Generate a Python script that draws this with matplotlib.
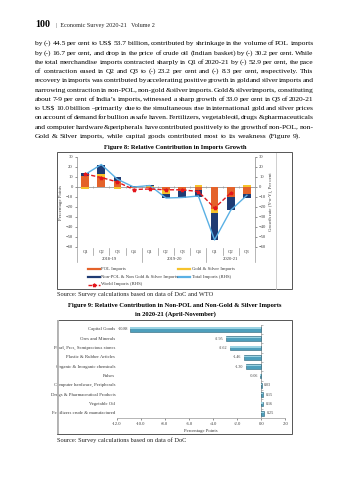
import math

import matplotlib

matplotlib.use("Agg")
import matplotlib.pyplot as plt
import numpy as np
from matplotlib.font_manager import FontProperties
from matplotlib.lines import Line2D
from matplotlib.patches import Rectangle

W, H = 349, 480
SERIF = "Liberation Serif"

# --- Figure 8: contributions (percentage points) and growth (per cent) ---
quarters = ["Q1", "Q2", "Q3", "Q4", "Q1", "Q2", "Q3", "Q4", "Q1", "Q2", "Q3"]
years = ["2018-19", "2019-20", "2020-21"]
year_spans = [(0, 3), (4, 7), (8, 10)]
pol = [11.0, 10.0, 6.5, -0.8, -0.5, -3.3, -3.5, -3.3, -21.5, -9.7, -7.0]
gold_silver = [-2.0, 3.5, -2.0, 0.5, 1.2, -3.2, -0.5, 1.8, -4.0, 0.0, 2.5]
non_pol = [3.5, 9.0, 3.2, 0.3, 1.3, -4.5, -6.5, -6.5, -27.4, -13.5, -3.8]
total_growth = [12.5, 22.5, 7.7, 0.0, 1.5, -11.0, -10.5, -9.0, -52.9, -23.2, -8.3]
world_growth = [13.0, 9.5, 5.0, -2.5, -2.0, -2.8, -2.8, -4.5, -21.0, -6.0, np.nan]

# --- Figure 9: non-POL, non-gold & silver contributions ---
groups = [
    "Capital Goods",
    "Ores and Minerals",
    "Pearl, Prcs, Semiprecious stones",
    "Plastic & Rubber Articles",
    "Organic & Inorganic chemicals",
    "Pulses",
    "Computer hardware, Peripherals",
    "Drugs & Pharmaceutical Products",
    "Vegetable Oil",
    "Fertilizers crude & manufactured",
]
contribution = [-10.88, -2.95, -2.62, -1.46, -1.30, -0.06, 0.03, 0.15, 0.16, 0.25]

body_lines = [
    "by (-) 44.5 per cent to US$ 53.7 billion, contributed by shrinkage in the volume of POL imports",
    "by (-) 16.7 per cent, and drop in the price of crude oil (Indian basket) by (-) 30.2 per cent. While",
    "the total merchandise imports contracted sharply in Q1 of 2020-21 by (-) 52.9 per cent, the pace",
    "of contraction eased in Q2 and Q3 to (-) 23.2 per cent and (-) 8.3 per cent, respectively. This",
    "recovery in imports was contributed by accelerating positive growth in gold and silver imports and",
    "narrowing contraction in non-POL, non-gold & silver imports. Gold & silver imports, constituting",
    "about 7-9 per cent of India\u2019s imports, witnessed a sharp growth of 33.0 per cent in Q3 of 2020-21",
    "to US$ 10.0 billion \u2013 primarily due to the simultaneous rise in international gold and silver prices",
    "on account of demand for bullion as safe haven. Fertilizers, vegetable oil, drugs & pharmaceuticals",
    "and computer hardware & peripherals have contributed positively to the growth of non-POL, non-",
    "Gold & Silver imports, while capital goods contributed most to its weakness (Figure 9).",
]

C_POL = "#E4622A"
C_GOLD = "#F6C32C"
C_NONPOL = "#1F3B73"
C_TOTAL = "#5AB0E4"
C_WORLD = "#E3151B"
C_BAR9 = "#4E9FBC"
C_TXT = "#3a3a3a"


def fx(x):
    return x / W


def fy(y):
    return 1 - y / H


def px_axes(fig, left, top, right, bottom):
    return fig.add_axes([fx(left), fy(bottom), (right - left) / W, (bottom - top) / H])


fig = plt.figure(figsize=(W / 100, H / 100), dpi=100)
fig.patch.set_facecolor("white")
renderer = fig.canvas.get_renderer()

# page header
fig.text(fx(35), fy(27), "100", family=SERIF, fontsize=7.2, weight="bold", va="baseline")
fig.text(fx(56), fy(27), "|  Economic Survey 2020-21   Volume 2", family=SERIF,
         fontsize=4.4, va="baseline", color="#222")

# justified body paragraph; the font size is the largest one that still
# leaves at least a minimal word gap on every justified line
x_left, x_right = 35.0, 313.5
line_w = x_right - x_left
min_gap = 0.55
probe = FontProperties(family=SERIF, size=10)
sizes = []
for line in body_lines[:-1]:
    words = line.split(" ")
    ww = sum(renderer.get_text_width_height_descent(w, probe, ismath=False)[0] for w in words)
    sizes.append(10 * (line_w - (len(words) - 1) * min_gap) / ww)
body_fp = FontProperties(family=SERIF, size=min(sizes))


def put_word(x, base, word):
    # Agg snaps each word bitmap to whole pixels using its own ascent and
    # descent; offset the anchor so all words share one baseline row
    _, h, d = renderer.get_text_width_height_descent(word, body_fp, ismath=False)
    y = base + math.floor(h) - math.floor(h - d) - d
    fig.text(fx(x), fy(y), word, fontproperties=body_fp, va="baseline",
             parse_math=False, color="black")


for i, line in enumerate(body_lines):
    base = round(45.3 + i * 9.25)
    words = line.split(" ")
    widths = [renderer.get_text_width_height_descent(w, body_fp, ismath=False)[0] for w in words]
    if i == len(body_lines) - 1:
        gap = max(renderer.get_text_width_height_descent("a", body_fp, ismath=False)[0] * 0.6, 1.2)
    else:
        gap = (line_w - sum(widths)) / (len(words) - 1)
    x = x_left
    for w, wd in zip(words, widths):
        put_word(x, base, w)
        x += wd + gap

# ---------------- Figure 8 ----------------
fig.text(fx(175), fy(147.5), "Figure 8: Relative Contribution in Imports Growth", family=SERIF,
         fontsize=4.7, weight="bold", ha="center", va="center")
fig.add_artist(Rectangle((fx(57), fy(289)), 235 / W, 137 / H, transform=fig.transFigure,
                         fill=False, edgecolor="#555", lw=0.7))
fig.add_artist(Line2D([fx(276), fx(276)], [fy(153), fy(289)], transform=fig.transFigure,
                      color="#c8c8c8", lw=0.6))

ax = px_axes(fig, 77, 157, 255, 247)
xs = np.arange(len(quarters))
bw = 0.47
pos_base = np.zeros(len(xs))
neg_base = np.zeros(len(xs))
for vals, col in [(pol, C_POL), (gold_silver, C_GOLD), (non_pol, C_NONPOL)]:
    vals = np.asarray(vals)
    bottoms = np.where(vals >= 0, pos_base, neg_base)
    ax.bar(xs, vals, bw, bottom=bottoms, color=col, edgecolor="none", zorder=2)
    pos_base = pos_base + np.clip(vals, 0, None)
    neg_base = neg_base + np.clip(vals, None, 0)

ax.axhline(0, color="#999", lw=0.6, zorder=1)
ax.vlines(xs[:-1] + 0.5, -0.8, 0.8, color="#999", lw=0.5, zorder=1)
ax.set_xlim(-0.5, len(xs) - 0.5)
ax.set_ylim(-60, 30)
ax.set_yticks(np.arange(-60, 31, 10))
ax.tick_params(axis="y", labelsize=3.3, length=1.5, width=0.4, pad=1.5, colors=C_TXT)
ax.set_xticks([])
for s in ["top", "bottom", "right"]:
    ax.spines[s].set_visible(False)
ax.spines["left"].set_color("#888")
ax.spines["left"].set_linewidth(0.5)
ax.set_ylabel("Percentage Points", family=SERIF, fontsize=3.5, labelpad=2, color=C_TXT)
for t in ax.get_yticklabels():
    t.set_family(SERIF)

ax2 = ax.twinx()
ax2.plot(xs, total_growth, color=C_TOTAL, lw=1.0, zorder=3)
ax2.plot(xs, world_growth, color=C_WORLD, lw=1.0, ls=(0, (3, 1.5)), marker="*",
         ms=2.6, zorder=4)
ax2.set_ylim(-60, 30)
ax2.set_yticks(np.arange(-60, 31, 10))
ax2.tick_params(axis="y", labelsize=3.3, length=1.5, width=0.4, pad=1.5, colors=C_TXT)
for s in ["top", "bottom", "left"]:
    ax2.spines[s].set_visible(False)
ax2.spines["right"].set_color("#888")
ax2.spines["right"].set_linewidth(0.5)
ax2.set_ylabel("Growth rate (Y-o-Y), Per cent", family=SERIF, fontsize=3.5, labelpad=2,
               color=C_TXT)
for t in ax2.get_yticklabels():
    t.set_family(SERIF)

# two-level category axis below the plot
xt = ax.get_xaxis_transform()
for i, q in enumerate(quarters):
    ax.text(i, -0.055, q, transform=xt, ha="center", va="center", fontsize=3.3,
            family=SERIF, color=C_TXT)
for (a, b), yr in zip(year_spans, years):
    ax.text((a + b) / 2, -0.135, yr, transform=xt, ha="center", va="center", fontsize=3.3,
            family=SERIF, color=C_TXT)
for i in range(len(xs) + 1):
    edge = i - 0.5
    long = i in (0, 4, 8, 11)
    ax.plot([edge, edge], [-0.01, -0.17 if long else -0.09], transform=xt, color="#999",
            lw=0.5, clip_on=False)

# legend
legend_items = [
    (88, 269, C_POL, "-", None, "POL Imports"),
    (178, 269, C_GOLD, "-", None, "Gold & Silver Imports"),
    (88, 277, C_NONPOL, "-", None, "Non-POL & Non Gold & Silver Imports"),
    (178, 277, C_TOTAL, "-", None, "Total Imports (RHS)"),
    (88, 284.5, C_WORLD, "--", "*", "World Imports (RHS)"),
]
for lx, ly, col, ls, mk, lab in legend_items:
    lw = 1.0 if ls == "--" else 1.6
    fig.add_artist(Line2D([fx(lx), fx(lx + 12)], [fy(ly), fy(ly)], transform=fig.transFigure,
                          color=col, lw=lw, ls=ls, dashes=(2.5, 1.2) if ls == "--" else (None, None)))
    if mk:
        fig.add_artist(Line2D([fx(lx + 6)], [fy(ly)], transform=fig.transFigure, color=col,
                              marker=mk, ms=2.6, lw=0))
    fig.text(fx(lx + 13.5), fy(ly), lab, family=SERIF, fontsize=3.4, va="center", color=C_TXT)

fig.text(fx(57), fy(294), "Source: Survey calculations based on data of DoC and WTO",
         family=SERIF, fontsize=4.6, va="center", color="#222")

# ---------------- Figure 9 ----------------
fig.text(fx(175), fy(306), "Figure 9: Relative Contribution in Non-POL and Non-Gold & Silver Imports",
         family=SERIF, fontsize=4.7, weight="bold", ha="center", va="center")
fig.text(fx(175), fy(314), "in 2020-21 (April-November)", family=SERIF, fontsize=4.7,
         weight="bold", ha="center", va="center")
fig.add_artist(Rectangle((fx(57), fy(434)), 235 / W, 114 / H, transform=fig.transFigure,
                         fill=False, edgecolor="#555", lw=0.7))
fig.add_artist(Line2D([fx(57.6), fx(57.6)], [fy(321), fy(433)], transform=fig.transFigure,
                      color="#b5b5b5", lw=1.4))

bx = px_axes(fig, 116.7, 324.5, 285.3, 418)
ys = np.arange(len(groups))
bx.barh(ys, contribution, 0.5, color=C_BAR9, edgecolor="#2B6378", lw=0.4, zorder=2)
bx.barh(ys - 0.11, contribution, 0.14, color="#9BD3E3", edgecolor="none", zorder=3)
bx.set_xlim(-12, 2)
bx.set_ylim(len(groups) - 0.5, -0.5)
bx.set_xticks(np.arange(-12, 2.1, 2))
bx.set_xticklabels([f"{v:.1f}" for v in np.arange(-12, 2.1, 2)])
bx.set_yticks([])
bx.tick_params(axis="x", labelsize=3.3, length=1.5, width=0.4, pad=1.5, colors=C_TXT)
for t in bx.get_xticklabels():
    t.set_family(SERIF)
for s in ["top", "left", "right"]:
    bx.spines[s].set_visible(False)
bx.spines["bottom"].set_color("#999")
bx.spines["bottom"].set_linewidth(0.5)
bx.axvline(0, color="#888", lw=0.5, zorder=1)
bx.hlines(np.arange(len(groups) + 1) - 0.5, 0, 0.12, color="#888", lw=0.4)
bx.set_xlabel("Percentage Points", family=SERIF, fontsize=3.4, labelpad=2, color=C_TXT)

yt = bx.get_yaxis_transform()
for y, name, v in zip(ys, groups, contribution):
    bx.text(-0.008, y, name, transform=yt, ha="right", va="center", fontsize=3.4,
            family=SERIF, color=C_TXT)
    off = -0.2 if v < 0 else 0.2
    bx.text(v + off, y, f"{v:.2f}", ha="right" if v < 0 else "left", va="center",
            fontsize=3.0, family=SERIF, color=C_TXT)

fig.text(fx(57), fy(440), "Source: Survey calculations based on data of DoC",
         family=SERIF, fontsize=4.6, va="center", color="#222")

fig.savefig("out.png", dpi=100, facecolor="white")
